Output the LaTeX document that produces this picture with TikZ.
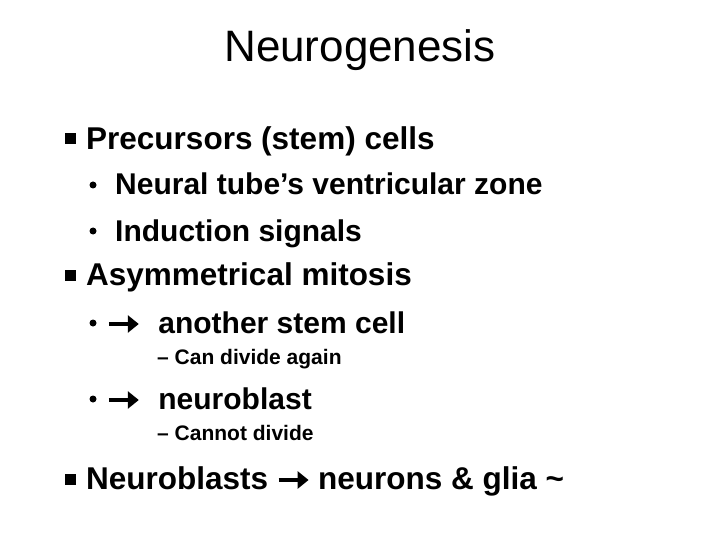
\documentclass[tikz,border=0pt]{standalone}
\usepackage{fontspec}
\usetikzlibrary{arrows.meta}
\setmainfont{Liberation Sans}
\begin{document}
\begin{tikzpicture}[x=1pt,y=-1pt,
  lone/.style={anchor=base west,inner sep=0pt,font=\fontsize{31.5}{33}\selectfont\bfseries},
  ltwo/.style={anchor=base west,inner sep=0pt,font=\fontsize{30}{32}\selectfont\bfseries},
  lthree/.style={anchor=base west,inner sep=0pt,font=\fontsize{21}{23}\selectfont\bfseries},
  sq/.style={fill=black,minimum size=11pt,inner sep=0pt},
  dot/.style={circle,fill=black,minimum size=7pt,inner sep=0pt}]
\useasboundingbox (0,0) rectangle (720,540);
\node[font=\fontsize{44}{46}\selectfont] (title) at (360,50) {Neurogenesis};
\newcommand{\arr}{\tikz[baseline,x=1pt,y=1pt]\draw[line width=3.2pt,-{Triangle[length=11pt,width=17pt]}] (0,9)--(30,9);}
\node[sq] (b1) at (70,139) {};
\node[lone] (t1) at (86,150) {Precursors (stem) cells};
\node[dot] (d1) at (93,185) {};
\node[ltwo] (t2) at (115,195) {Neural tube’s ventricular zone};
\node[dot] (d2) at (93,231) {};
\node[ltwo] (t3) at (115,241) {Induction signals};
\node[sq] (b2) at (70,275) {};
\node[lone] (t4) at (86,285) {Asymmetrical mitosis};
\node[dot] (d3) at (93,323) {};
\node[ltwo] (t5) at (107,333) {\arr\hspace{18pt}another stem cell};
\node[lthree] (t6) at (157,364) {– Can divide again};
\node[dot] (d4) at (93,399) {};
\node[ltwo] (t7) at (107,409) {\arr\hspace{18pt}neuroblast};
\node[lthree] (t8) at (157,440) {– Cannot divide};
\node[sq] (b3) at (70,479) {};
\node[lone] (t9) at (86,489) {Neuroblasts \arr\hspace{8pt}neurons \& glia \textasciitilde};
\end{tikzpicture}
\end{document}
